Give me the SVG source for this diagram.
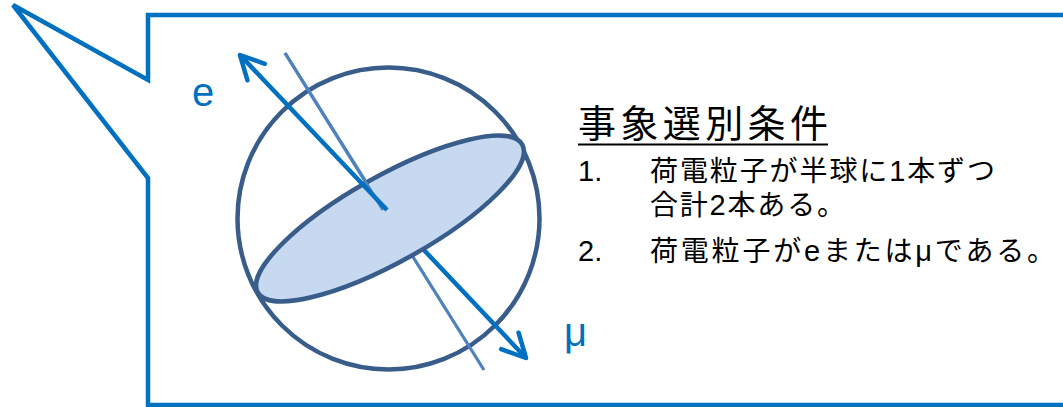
<svg xmlns="http://www.w3.org/2000/svg" width="1063" height="407" viewBox="0 0 1063 407">
  <style>
    .callout { fill: #ffffff; stroke: #0070C0; stroke-width: 4.5; stroke-linejoin: miter; }
    .sphere { fill: none; stroke: #385D8A; stroke-width: 4.5; }
    .plane { fill: #C6D9F1; stroke: #385D8A; stroke-width: 4.5; }
    .axis { stroke: #4F81BD; stroke-width: 3.2; fill: none; }
    .track { stroke: #0070C0; stroke-width: 4.5; fill: none; marker-end: url(#open-arrow); }
    .label { font-family: "Liberation Sans", "Noto Sans", sans-serif; font-size: 40px; fill: #0070C0; }
    .cjk { font-family: "Noto Sans CJK JP", sans-serif; fill: #000000; }
    .num { font-family: "Liberation Sans", "Noto Sans", sans-serif; font-size: 29px; fill: #000000; }
    .lat { font-family: "Liberation Sans", "Noto Sans", sans-serif; font-size: 29px; }
  </style>
  <defs>
    <marker id="open-arrow" markerUnits="userSpaceOnUse" viewBox="-30 -16 34 32" markerWidth="34" markerHeight="32" refX="0" refY="0" orient="auto" overflow="visible">
      <path d="M-23.5,-12 L0,0 L-23.5,12" fill="none" stroke="#0070C0" stroke-width="4.5" stroke-linecap="round" stroke-linejoin="round"/>
    </marker>
  </defs>

  <!-- speech-bubble frame with its pointer to the upper left -->
  <g id="callout">
    <path class="callout" d="M148,15 L1075,15 L1075,405 L148,405 L148,178 L13,5 L148,80 Z"/>
  </g>

  <!-- detector sphere -->
  <g id="sphere">
    <circle class="sphere" cx="388.5" cy="218.5" r="151"/>
  </g>

  <g id="connectors">
    <!-- beam axis and muon track pass behind the mid-plane -->
    <line class="axis" x1="285" y1="53" x2="484" y2="370"/>
    <line class="track" x1="388" y1="212" x2="526" y2="358"/>
  </g>

  <!-- hemisphere dividing plane -->
  <g id="plane">
    <ellipse class="plane" cx="390" cy="218.5" rx="151.5" ry="43" transform="rotate(-29.2 390 218.5)"/>
  </g>

  <g id="connectors-front">
    <line class="axis" x1="285" y1="53" x2="383" y2="210"/>
    <line class="track" x1="387" y1="210" x2="240" y2="55"/>
  </g>

  <g id="label-e">
    <text class="label" x="192" y="106">e</text>
  </g>
  <g id="label-mu">
    <text class="label" x="564" y="346">μ</text>
  </g>

  <!-- selection criteria -->
  <g id="criteria">
    <text class="cjk" x="578" y="137" font-size="38" textLength="250" lengthAdjust="spacing">事象選別条件</text>
    <line x1="578" y1="144.5" x2="828" y2="144.5" stroke="#000000" stroke-width="2"/>
    <text class="num" x="578" y="181">1.</text>
    <text class="cjk" x="650" y="181" font-size="28" textLength="345" lengthAdjust="spacing">荷電粒子が半球に<tspan class="lat">1</tspan>本ずつ</text>
    <text class="cjk" x="650" y="215" font-size="28" textLength="195" lengthAdjust="spacing">合計<tspan class="lat">2</tspan>本ある。</text>
    <text class="num" x="578" y="261">2.</text>
    <text class="cjk" x="650" y="261" font-size="28" textLength="405" lengthAdjust="spacing">荷電粒子が<tspan class="lat">e</tspan>または<tspan class="lat">μ</tspan>である。</text>
  </g>
</svg>
